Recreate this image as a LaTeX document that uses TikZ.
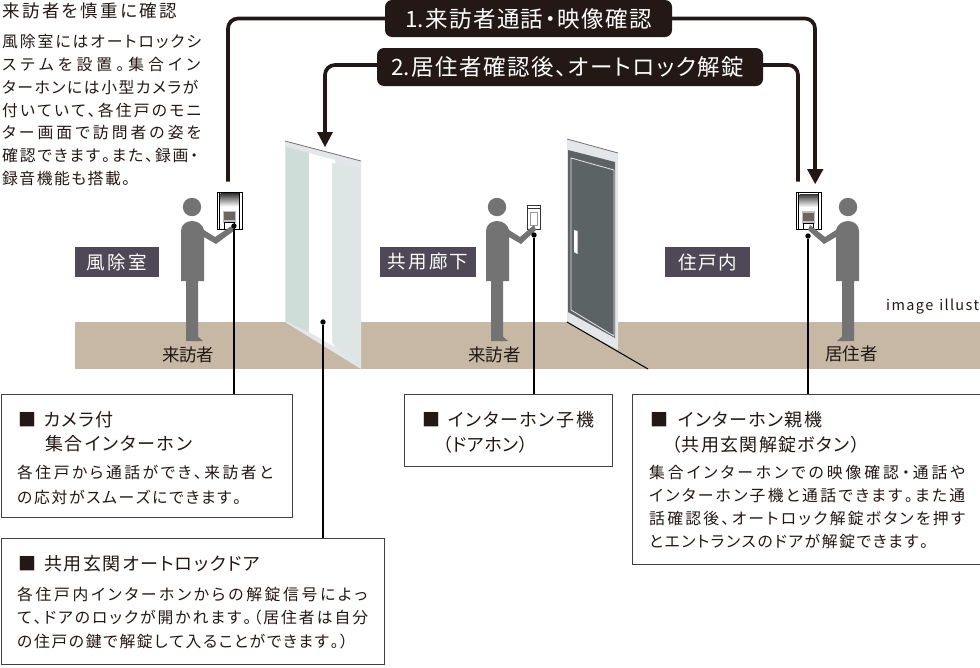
\documentclass[tikz,border=0pt]{standalone}
\usepackage{fontspec}
\setmainfont[RawFeature=+palt]{Noto Sans CJK JP}
\definecolor{inkblack}{HTML}{231815}
\definecolor{figure}{HTML}{737373}
\definecolor{floorc}{HTML}{C6B8A5}
\definecolor{labelbg}{HTML}{4F4856}
\definecolor{glass}{HTML}{DDE6E5}
\definecolor{glassb}{HTML}{CFDDD9}
\definecolor{frame}{HTML}{E4E6EA}
\definecolor{doorc}{HTML}{5B6364}
\definecolor{keypad}{HTML}{6F6462}
\tikzset{
  x=1pt,y=-1pt,
  flow/.style={line width=3.7pt,draw=inkblack,rounded corners=10pt},
  pill/.style={fill=inkblack,text=white,rounded corners=7pt,inner sep=0pt,font=\fontsize{22.5}{22.5}\selectfont},
  room/.style={fill=labelbg,text=white,inner sep=0pt,minimum height=30pt,font=\fontsize{18.5}{18.5}\selectfont},
  who/.style={text=inkblack,inner sep=0pt,font=\fontsize{17.5}{17.5}\selectfont},
  lead/.style={line width=1.1pt,draw=black},
  box/.style={draw=black!75,line width=1pt,fill=white,anchor=north west,inner sep=0pt},
  head/.style={anchor=west,inner sep=0pt,text=inkblack,font=\fontsize{18}{18}\selectfont},
  body/.style={anchor=west,inner sep=0pt,text=inkblack,font=\fontsize{15.8}{15.8}\selectfont},
  dot/.style={circle,fill=black,inner sep=0pt,minimum size=5.4pt},
  tip/.style={fill=inkblack,draw=none}
}
% Sets a line to an exact width by sharing the slack evenly between its characters
\makeatletter
\newcommand{\spread}[2]{\hbox to #1pt{\def\sepgap{}\@tfor\ch:=#2\do{\sepgap\ch\def\sepgap{\hskip 0pt plus 1fil minus 6pt}}}}
\makeatother
% Standing figure: x, y of the head centre, facing (+1 right, -1 left), reach of the hand
\newcommand{\person}[4]{%
  \begin{scope}[shift={(#1,#2)},xscale=#3]
    \fill[figure] (0,0) circle (9.2);
    \fill[figure] (-11,74) -- (-11,24) .. controls (-11,18) and (-6,14) .. (0,14)
      .. controls (6,14) and (11,18) .. (12,23) -- (23,30) -- (#4,18) -- (#4+2,23) -- (24,37) -- (12,30) -- (12,74) -- (6,74)
      -- (6,134) -- (0,134) -- (-6,134) -- (-6,74) -- cycle;
    \fill[figure] (4,128) -- (11,134) -- (4,134) -- cycle;
  \end{scope}}
% Entry panel with monitor and keypad
\newcommand{\panel}[2]{%
  \begin{scope}[shift={(#1,#2)}]
    \fill[white] (0,0) rectangle (25,37);
    \shade[top color=black!78,bottom color=white] (3.5,1.5) rectangle (22,14.5);
    \draw[black,line width=.9pt] (0,0) rectangle (25,37) (2.5,0) -- (2.5,37) (22,0) -- (22,37);
    \fill[black!25] (6,18.5) rectangle (19,31);
    \fill[keypad] (7,20) rectangle (18,28);
    \draw[black,line width=.6pt] (7,30.5) rectangle (17,37);
  \end{scope}}
\begin{document}
\begin{tikzpicture}
\useasboundingbox (0,0) rectangle (980,667);
% floor
\fill[floorc] (75,322) rectangle (980,369);

% glass door
\fill[frame] (285,141) -- (361,161) -- (361,369) -- (285,322) -- cycle;
\fill[glassb] (286,147) -- (309,153) -- (309,332) -- (286,321) -- cycle;
\fill[glass] (332,163) -- (360,168) -- (360,367) -- (335,347) -- (332,342) -- cycle;
\fill[white] (309,153) -- (335,160) -- (335,163) -- (332,163) -- (332,342) -- (335,347) -- (309,332) -- cycle;
\draw[black!55,line width=.8pt] (285,141) -- (361,161);

% solid door
\fill[frame] (567,139) -- (618,153) -- (618,350) -- (567,322) -- cycle;
\fill[doorc] (568,150) -- (615,162) -- (615,338) -- (568,312) -- cycle;
\draw[frame,line width=.8pt] (571,158) -- (614,170) -- (614,336) -- (571,310) -- cycle;
\fill[white] (574,230) -- (577.5,231) -- (577.5,254) -- (574,252) -- cycle;
\draw[black!55,line width=.8pt] (567,139) -- (618,153);
\draw[black,line width=1pt] (567,322) -- (648,369);

% wall units and figures
\panel{217}{192}
\panel{796}{192.5}
\begin{scope}[shift={(527,205)}]
  \fill[white] (0,0) rectangle (13,24);
  \draw[black!80,line width=.7pt] (0,0) rectangle (13,24) (0,3.5) -- (13,3.5);
  \draw[black!40,line width=.6pt] (3,7) rectangle (10,20);
\end{scope}
\person{192}{207}{1}{41}
\person{497}{207}{1}{37}
\person{848}{207}{-1}{38}

% signal paths with their caption bars
\node[pill,minimum width=287pt,minimum height=37pt] (call) at (528.5,18.5) {\raisebox{-1.5pt}{\spread{247}{{1.}来訪者通話・映像確認}}};
\node[pill,minimum width=386pt,minimum height=38pt] (unlock) at (570,67) {\raisebox{-1pt}{\spread{353}{{2.}居住者確認後、オートロック解錠}\hskip5pt}};
\coordinate (callL) at (228,181.5);
\coordinate (callR) at (815,170);
\coordinate (unlockL) at (325,133);
\coordinate (unlockR) at (798,181.5);
\coordinate (unlockW) at ([yshift=2pt]unlock.west);
\coordinate (unlockE) at ([yshift=2pt]unlock.east);
\draw[flow] (call.west) -- (callL |- call.west) -- (callL);
\draw[flow] (call.east) -- (callR |- call.east) -- (callR);
\draw[flow] (unlockW) -- (unlockL |- unlockW) -- (unlockL);
\draw[flow] (unlockE) -- (unlockR |- unlockE) -- (unlockR);
\fill[tip] (317,132) -- (333,132) -- (325,147) -- cycle;
\fill[tip] (807,169) -- (823.5,169) -- (815.2,184) -- cycle;

% room names
\node[room,minimum width=84pt] (r1) at (117,262) {\spread{61}{風除室}};
\node[room,minimum width=96pt] (r2) at (428,262) {\spread{81}{共用廊下}};
\node[room,minimum width=85pt] (r3) at (707.5,262) {\spread{58}{住戸内}};
\node[who] (v1) at (188,355) {\spread{52}{来訪者}};
\node[who] (v2) at (494.5,355) {\spread{53}{来訪者}};
\node[who] (v3) at (851.5,354) {\spread{53}{居住者}};
\node[anchor=west,inner sep=0pt,text=inkblack,font=\fontsize{14.5}{14.5}\selectfont] (img) at (886,307) {\spread{93}{image{\ }illust}};

% intro text
\node[anchor=west,inner sep=0pt,text=inkblack,font=\fontsize{17.5}{17.5}\selectfont] (t0) at (2,11) {\spread{175}{来訪者を慎重に確認}};
\node[body] (t1) at (2,42) {\spread{199}{風除室にはオートロックシ}};
\node[body] (t2) at (2,64) {\spread{198}{ステムを設置。集合イン}};
\node[body] (t3) at (2,87) {\spread{196}{ターホンには小型カメラが}};
\node[body] (t4) at (2,110) {\spread{199}{付いていて、各住戸のモニ}};
\node[body] (t5) at (2,133) {\spread{199}{ター画面で訪問者の姿を}};
\node[body] (t6) at (2,155) {\spread{196}{確認できます。また、録画・}};
\node[body] (t7) at (2,179) {\spread{128}{録音機能も搭載。}};

% callout boxes
\node[box,minimum width=291pt,minimum height=123pt] (boxa) at (0.5,394) {};
\node[box,minimum width=383.5pt,minimum height=125.5pt] (boxb) at (0.5,538) {};
\node[box,minimum width=208pt,minimum height=72pt] (boxc) at (404,394) {};
\node[box,minimum width=347.5pt,minimum height=170pt] (boxd) at (632,394) {};

% leader lines
\node[dot] (d1) at (234,226) {};
\node[dot] (d2) at (323,322) {};
\node[dot] (d3) at (534,235) {};
\node[dot] (d4) at (808,236) {};
\draw[lead] (d1) -- (d1 |- boxa.north);
\draw[lead] (d2) -- (d2 |- boxb.north);
\draw[lead] (d3) -- (d3 |- boxc.north);
\draw[lead] (d4) -- (d4 |- boxd.north);

% callout text
\node[head] (a0) at (18,420) {■};
\node[head] (a1) at (44,420) {\spread{69}{カメラ付}};
\node[head] (a2) at (45,444) {\spread{147}{集合インターホン}};
\node[body] (a3) at (17,472) {\spread{256}{各住戸から通話ができ、来訪者と}};
\node[body] (a4) at (17,497) {\spread{224}{の応対がスムーズにできます。}};

\node[head] (b0) at (18,564) {■};
\node[head] (b1) at (44,564) {\spread{216}{共用玄関オートロックドア}};
\node[body] (b2) at (17,594) {\spread{350}{各住戸内インターホンからの解錠信号によっ}};
\node[body] (b3) at (17,617) {\spread{351}{て、ドアのロックが開かれます。（居住者は自分}};
\node[body] (b4) at (17,641) {\spread{331}{の住戸の鍵で解錠して入ることができます。）}};

\node[head] (c0) at (422,420) {■};
\node[head] (c1) at (448,420) {\spread{146}{インターホン子機}};
\node[head] (c2) at (443,445) {\spread{85}{（ドアホン）}};

\node[head] (e0) at (650,420) {■};
\node[head] (e1) at (678,420) {\spread{144}{インターホン親機}};
\node[head] (e2) at (671.5,445) {\spread{188}{（共用玄関解錠ボタン）}};
\node[body] (e3) at (649,472) {\spread{316}{集合インターホンでの映像確認・通話や}};
\node[body] (e4) at (649,496) {\spread{316}{インターホン子機と通話できます。また通}};
\node[body] (e5) at (649,519) {\spread{316}{話確認後、オートロック解錠ボタンを押す}};
\node[body] (e6) at (649,541) {\spread{279}{とエントランスのドアが解錠できます。}};
\end{tikzpicture}
\end{document}
